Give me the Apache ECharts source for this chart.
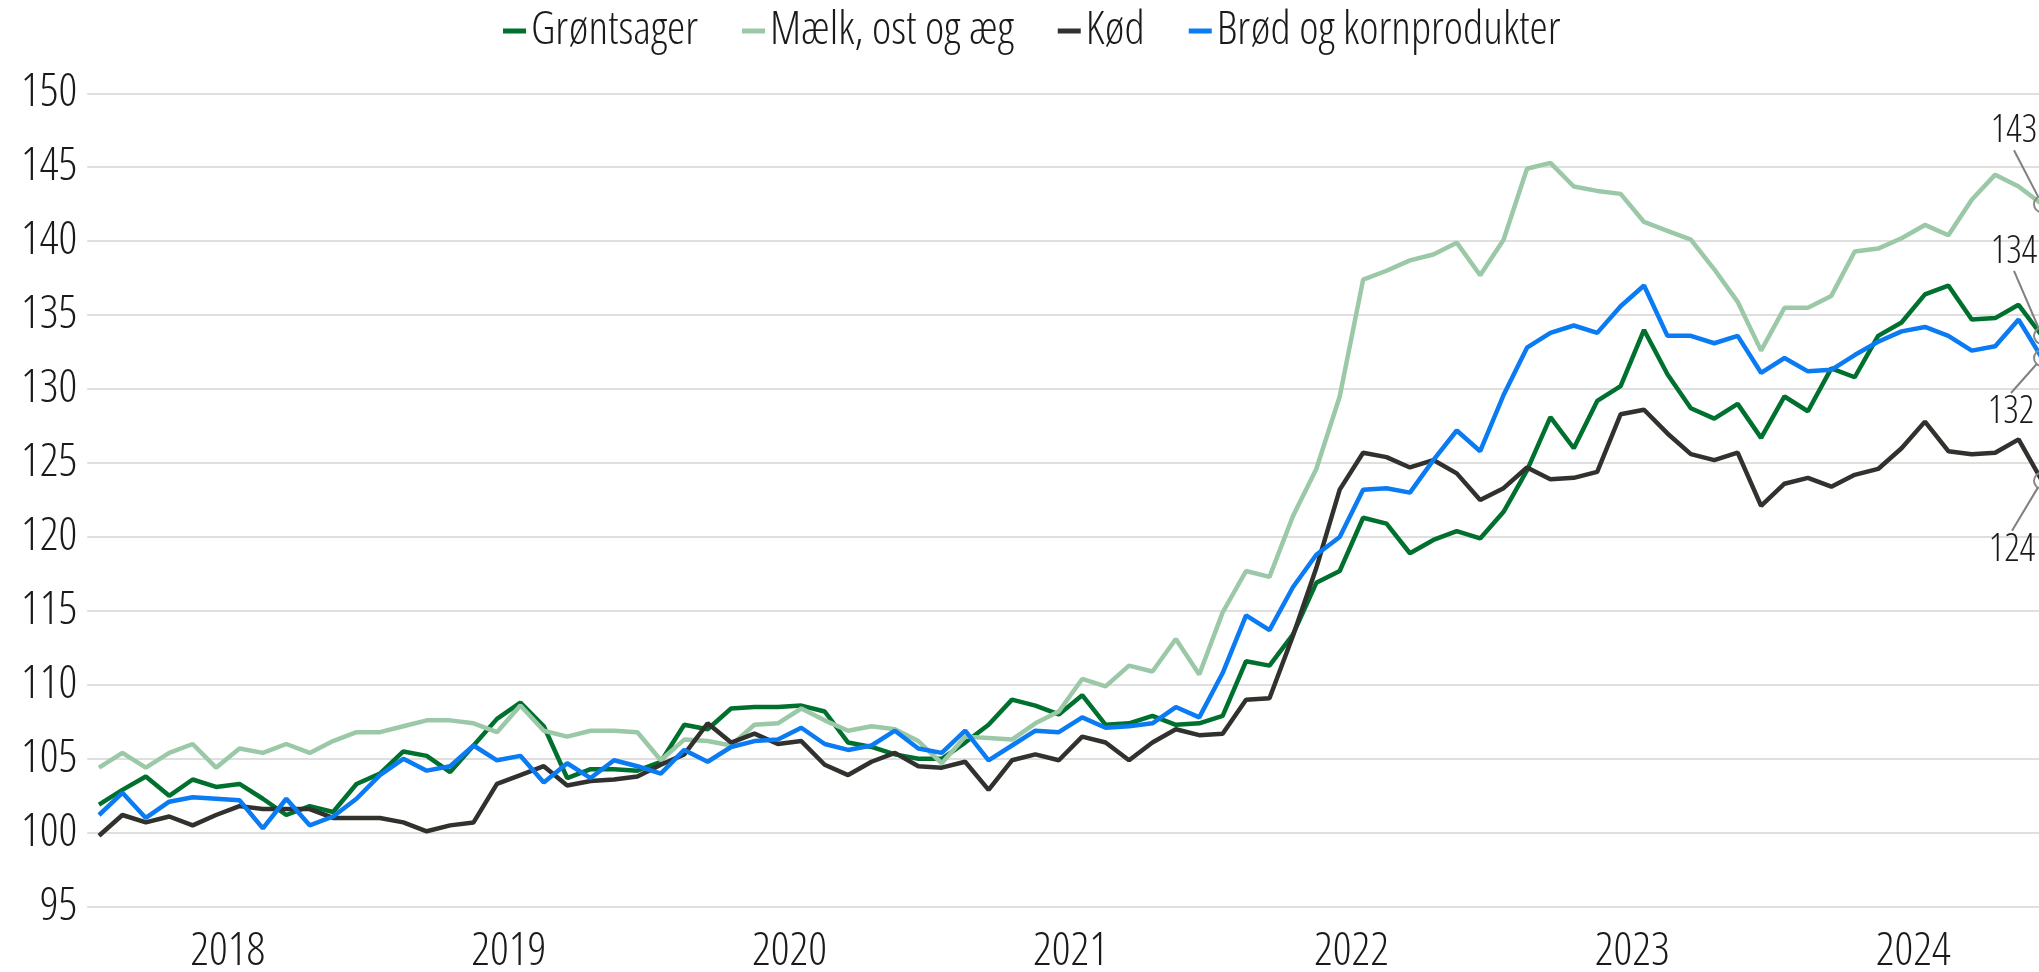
<!DOCTYPE html>
<html>
<head>
<meta charset="utf-8">
<script src="https://cdn.jsdelivr.net/npm/echarts@6/dist/echarts.min.js"></script>
<style>
  html, body { margin: 0; padding: 0; background: #fff; }
  #chart { width: 2039px; height: 972px; }
</style>
</head>
<body>
<div id="chart"></div>
<script>
var years = ['2018', '2019', '2020', '2021', '2022', '2023', '2024'];

// monthly index values, Jan 2018 - Dec 2024
var groentsager = [
  101.9, 102.9, 103.8, 102.5, 103.6, 103.1, 103.3, 102.3, 101.2, 101.8, 101.4, 103.3,
  104.0, 105.5, 105.2, 104.1, 105.9, 107.7, 108.8, 107.2, 103.7, 104.3, 104.3, 104.2,
  104.8, 107.3, 107.0, 108.4, 108.5, 108.5, 108.6, 108.2, 106.1, 105.8, 105.3, 105.0,
  105.0, 106.1, 107.3, 109.0, 108.6, 108.0, 109.3, 107.3, 107.4, 107.9, 107.3, 107.4,
  107.9, 111.6, 111.3, 113.4, 116.9, 117.7, 121.3, 120.9, 118.9, 119.8, 120.4, 119.9,
  121.7, 124.5, 128.1, 126.0, 129.2, 130.2, 134.0, 131.0, 128.7, 128.0, 129.0, 126.7,
  129.5, 128.5, 131.4, 130.8, 133.6, 134.5, 136.4, 137.0, 134.7, 134.8, 135.7, 133.6
];
var maelk = [
  104.4, 105.4, 104.4, 105.4, 106.0, 104.4, 105.7, 105.4, 106.0, 105.4, 106.2, 106.8,
  106.8, 107.2, 107.6, 107.6, 107.4, 106.8, 108.6, 106.9, 106.5, 106.9, 106.9, 106.8,
  104.9, 106.3, 106.2, 105.9, 107.3, 107.4, 108.4, 107.6, 106.9, 107.2, 107.0, 106.2,
  104.7, 106.5, 106.4, 106.3, 107.4, 108.2, 110.4, 109.9, 111.3, 110.9, 113.1, 110.7,
  114.9, 117.7, 117.3, 121.4, 124.6, 129.5, 137.4, 138.0, 138.7, 139.1, 139.9, 137.7,
  140.1, 144.9, 145.3, 143.7, 143.4, 143.2, 141.3, 140.7, 140.1, 138.1, 135.9, 132.6,
  135.5, 135.5, 136.3, 139.3, 139.5, 140.2, 141.1, 140.4, 142.8, 144.5, 143.7, 142.5
];
var koed = [
  99.8, 101.2, 100.7, 101.1, 100.5, 101.2, 101.8, 101.6, 101.6, 101.6, 101.0, 101.0,
  101.0, 100.7, 100.1, 100.5, 100.7, 103.3, 103.9, 104.5, 103.2, 103.5, 103.6, 103.8,
  104.6, 105.3, 107.4, 106.1, 106.7, 106.0, 106.2, 104.6, 103.9, 104.8, 105.4, 104.5,
  104.4, 104.8, 102.9, 104.9, 105.3, 104.9, 106.5, 106.1, 104.9, 106.1, 107.0, 106.6,
  106.7, 109.0, 109.1, 113.3, 117.9, 123.2, 125.7, 125.4, 124.7, 125.2, 124.3, 122.5,
  123.3, 124.7, 123.9, 124.0, 124.4, 128.3, 128.6, 127.0, 125.6, 125.2, 125.7, 122.1,
  123.6, 124.0, 123.4, 124.2, 124.6, 126.0, 127.8, 125.8, 125.6, 125.7, 126.6, 123.8
];
var broed = [
  101.2, 102.7, 101.0, 102.1, 102.4, 102.3, 102.2, 100.3, 102.3, 100.5, 101.1, 102.3,
  103.9, 105.0, 104.2, 104.5, 105.9, 104.9, 105.2, 103.4, 104.7, 103.7, 104.9, 104.5,
  104.0, 105.6, 104.8, 105.8, 106.2, 106.3, 107.1, 106.0, 105.6, 105.9, 106.9, 105.7,
  105.4, 106.9, 104.9, 105.9, 106.9, 106.8, 107.8, 107.1, 107.2, 107.4, 108.5, 107.8,
  110.8, 114.7, 113.7, 116.6, 118.8, 120.0, 123.2, 123.3, 123.0, 125.2, 127.2, 125.8,
  129.6, 132.8, 133.8, 134.3, 133.8, 135.6, 137.0, 133.6, 133.6, 133.1, 133.6, 131.1,
  132.1, 131.2, 131.3, 132.3, 133.2, 133.9, 134.2, 133.6, 132.6, 132.9, 134.7, 132.1
];

var months = [];
years.forEach(function (y) {
  for (var m = 1; m <= 12; m++) months.push(y + '-' + (m < 10 ? '0' + m : m));
});

// narrow light text: Open Sans, condensed width via the font shorthand
var txt = {
  fontFamily: "'Open Sans', sans-serif",
  fontStyle: 'semi-condensed',
  fontWeight: 300,
  color: '#1a1a1a'
};
function textStyle(size, extra) {
  return Object.assign({}, txt, { fontSize: size }, extra || {});
}

function lineSeries(name, values, color, dx, dy) {
  var last = values.length - 1;
  var data = values.map(function (v, i) {
    if (i < last) return v;
    return {
      value: v,
      symbol: 'circle',
      symbolSize: 16,
      itemStyle: { color: 'rgba(255,255,255,0)', borderColor: '#8a8a8a', borderWidth: 2 },
      label: { show: true },
      labelLine: { show: true }
    };
  });
  return {
    name: name,
    type: 'line',
    data: data,
    symbol: 'none',
    showSymbol: true,
    showAllSymbol: true,
    lineStyle: { color: color, width: 4.5 },
    itemStyle: { color: color },
    label: textStyle(38, {
      show: false,
      position: 'inside',
      formatter: function (p) { return Math.round(p.value); },
      padding: [8, 4, 8, 4]
    }),
    labelLine: { show: false, lineStyle: { color: '#808080', width: 2 } },
    labelLayout: { dx: dx, dy: dy },
    emphasis: { disabled: true }
  };
}

var chart = echarts.init(document.getElementById('chart'));

var option = {
  animation: false,
  backgroundColor: '#fff',
  legend: {
    top: 3,
    left: 498,
    icon: 'rect',
    itemWidth: 23,
    itemHeight: 5,
    itemGap: 44,
    textStyle: textStyle(46),
    data: ['Grøntsager', 'Mælk, ost og æg', 'Kød', 'Brød og kornprodukter']
  },
  grid: {
    left: 87.3,
    top: 93.3,
    width: 1966.4,
    height: 813.4,
    containLabel: false,
    outerBoundsMode: 'none'
  },
  xAxis: [
    {
      type: 'category',
      data: months,
      boundaryGap: true,
      axisLine: { show: false },
      axisTick: { show: false },
      axisLabel: { show: false },
      splitLine: { show: false }
    },
    {
      type: 'category',
      data: years,
      position: 'bottom',
      boundaryGap: true,
      axisLine: { show: false },
      axisTick: { show: false },
      splitLine: { show: false },
      axisLabel: textStyle(46, { margin: 22 })
    }
  ],
  yAxis: {
    type: 'value',
    min: 95,
    max: 150,
    interval: 5,
    axisLine: { show: false },
    axisTick: { show: false },
    axisLabel: textStyle(46, { margin: 10 }),
    splitLine: { lineStyle: { color: '#d4d4d4', width: 1.5 } }
  },
  series: [
    lineSeries('Grøntsager', groentsager, '#00702e', -28, -84),
    lineSeries('Mælk, ost og æg', maelk, '#9bc8a7', -28, -73),
    lineSeries('Kød', koed, '#31312e', -30, 69),
    lineSeries('Brød og kornprodukter', broed, '#0a7bf2', -31, 54)
  ]
};

option && chart.setOption(option);
</script>
</body>
</html>
